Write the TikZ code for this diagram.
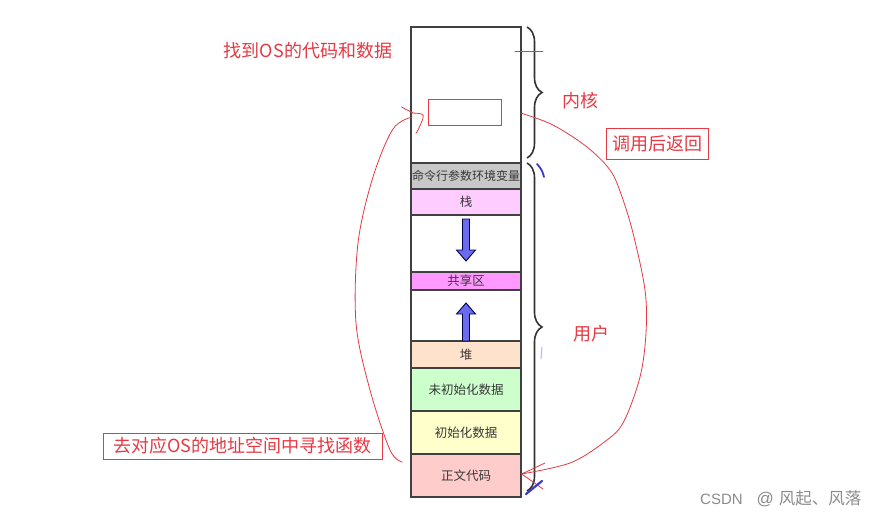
\documentclass[tikz,border=0pt]{standalone}
\usepackage{fontspec}
\newfontfamily\cjk{Noto Sans CJK SC}
\newfontfamily\wmlatin{Liberation Sans}
\usetikzlibrary{decorations.pathreplacing,calc}
\definecolor{dk}{HTML}{404040}
\definecolor{rd}{HTML}{E53A44}
\definecolor{cgray}{HTML}{C8C8C8}
\definecolor{cstack}{HTML}{FFCCFF}
\definecolor{cshare}{HTML}{FF99FF}
\definecolor{cheap}{HTML}{FFE2CC}
\definecolor{cbss}{HTML}{CCFFCC}
\definecolor{cdata}{HTML}{FFFFCC}
\definecolor{ccode}{HTML}{FFCCCC}
\definecolor{barrowfill}{HTML}{6B6BF0}
\definecolor{bmark}{HTML}{3A3ACC}
\begin{document}
\begin{tikzpicture}[x=1pt,y=-1pt,
  seg/.style={draw=dk, line width=1.4pt, minimum width=110pt, inner sep=0pt,
    font=\cjk\fontsize{12.5}{13}\selectfont, text=black!78},
  redtext/.style={text=rd, font=\cjk\fontsize{18}{20}\selectfont, inner sep=0pt},
  redbox/.style={draw=rd, line width=0.9pt, text=rd, font=\cjk\fontsize{18}{20}\selectfont, inner sep=0pt},
  redline/.style={draw=rd, line width=0.8pt, line cap=round, line join=round},
  bigarrow/.style={draw=black!70!blue, fill=barrowfill, line width=0.9pt, line join=miter},
  bracestyle/.style={draw=black!80, line width=1.6pt, decorate, decoration={brace, amplitude=15pt}}]
\useasboundingbox (0,0) rectangle (887,519);
\fill[white] (0,0) rectangle (887,519);

% memory column
\node[seg, fill=white, minimum height=136pt] (kernel) at (466,95) {};
\node[seg, fill=cgray, minimum height=26pt, font=\cjk\fontsize{12}{13}\selectfont] (cmd) at (466,176) {命令行参数环境变量};
\node[seg, fill=cstack, minimum height=26pt] (stack) at (466,202) {栈};
\node[seg, fill=white, minimum height=57pt] (gapa) at (466,243.5) {};
\node[seg, fill=cshare, minimum height=18pt] (shared) at (466,281) {共享区};
\node[seg, fill=white, minimum height=51pt] (gapb) at (466,315.5) {};
\node[seg, fill=cheap, minimum height=27pt] (heap) at (466,354.5) {堆};
\node[seg, fill=cbss, minimum height=43pt] (bss) at (466,389.5) {未初始化数据};
\node[seg, fill=cdata, minimum height=43pt] (data) at (466,432.5) {初始化数据};
\node[seg, fill=ccode, minimum height=43pt] (code) at (466,475.5) {正文代码};

% growth arrows
\draw[bigarrow] (462.5,219) -- (469.5,219) -- (469.5,250) -- (475.5,250) -- (466,261)
  -- (456.5,250) -- (462.5,250) -- cycle;
\draw[bigarrow] (462.5,341) -- (469.5,341) -- (469.5,314) -- (475.5,314) -- (466,303)
  -- (456.5,314) -- (462.5,314) -- cycle;

% braces
\coordinate (kb1) at (527,27);
\coordinate (kb2) at (527,158);
\coordinate (ub1) at (527,163);
\coordinate (ub2) at (527,491);
\draw[bracestyle] (kb1) -- (kb2);
\draw[bracestyle] (ub1) -- (ub2);

% labels
\node[redtext] (kernlbl) at (580,101) {内核};
\node[redtext] (userlbl) at (591,334) {用户};
\node[redtext] (findos) at (308,51) {找到OS的代码和数据};
\node[redbox, minimum width=102pt, minimum height=31pt] (ret) at (657,143.5) {调用后返回};
\node[redbox, minimum width=279pt, minimum height=26pt] (findbox) at (242.5,446) {去对应OS的地址空间中寻找函数};

% small red rectangle inside the kernel
\node[draw=rd, line width=0.8pt, minimum width=73pt, minimum height=26pt, inner sep=0pt] (osfn) at (464.5,112) {};
% red mark crossing the kernel edge
\draw[redline] (515,51) -- (543,51);

% left hand-drawn curve (call into OS)
\coordinate (ls) at ($(code.west)+(-8,-13.5)$);
\coordinate (le) at ($(kernel.west)+(2,22)$);
\draw[redline] plot[smooth, tension=0.55] coordinates {(ls) (390,450) (370,390) (356,323) (358,243) (373,177) (393,129) (le)};
\draw[redline] (401.5,107) -- (413,113);
\draw[redline] plot[smooth, tension=0.6] coordinates {(411.5,113) (421.5,114) (423,118) (418,130) (416,133)};

% right hand-drawn curve (return)
\coordinate (rs) at ($(kernel.east)+(-1,18)$);
\coordinate (re) at ($(code.east)+(0,-1.5)$);
\draw[redline] plot[smooth, tension=0.55] coordinates {(rs) (553,125) (587,147) (610,170) (621,194) (633,233) (645,290) (646,333) (640,377) (623,423) (603,443) (570,463) (re)};
\draw[redline] (re) -- (545,463);
\draw[redline] (re) -- (543,489);

% stray blue marks
\draw[bmark, line width=2.2pt, line cap=round] (526,494) -- (542,481);
\draw[bmark, line width=1.8pt, line cap=round] (537,164) to[bend left=15] (544,177);
\draw[blue!30, line width=1pt] (542,347) -- (541,359);

% watermark
\node[text=black!45, inner sep=0pt, anchor=west] (wm) at (700,499)
  {{\wmlatin\fontsize{15}{17}\selectfont CSDN}\hspace{14pt}{\wmlatin\fontsize{17}{17}\selectfont @}\hspace{5pt}{\cjk\fontsize{16.5}{18}\selectfont 风起、风落}};
\end{tikzpicture}
\end{document}
